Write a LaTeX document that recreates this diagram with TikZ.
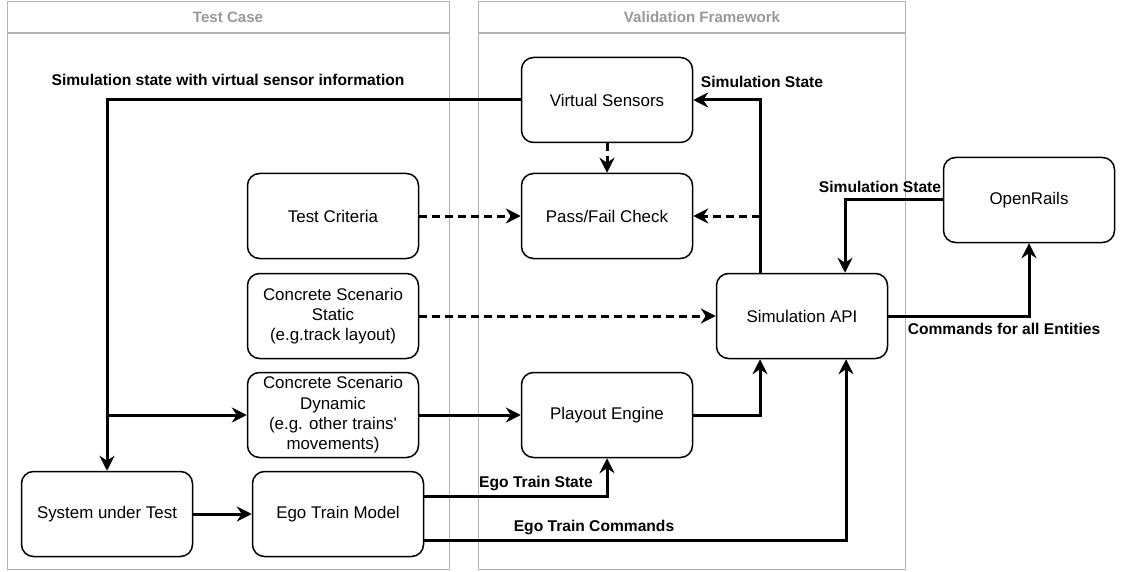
\documentclass[tikz,border=0pt]{standalone}
\usepackage{fontspec}
\setmainfont{Liberation Sans}
\newfontfamily\straightsans[Ligatures=ResetAll]{Liberation Sans}
\usetikzlibrary{arrows.meta}
\begin{document}
\begin{tikzpicture}[x=1pt,y=-1pt,
  box/.style={draw=black, line width=1.5pt, rounded corners=12pt, fill=white,
    minimum width=171pt, minimum height=85pt, align=center, inner sep=1pt,
    font=\fontsize{16.9}{20.3}\selectfont},
  frame/.style={draw=black!30, line width=1.3pt},
  head/.style={text=black!40, font=\fontsize{15.1}{18}\selectfont\bfseries},
  flow/.style={line width=3pt, -{Stealth[length=15pt,width=15pt,inset=5pt]}},
  dflow/.style={flow, dash pattern=on 8pt off 5pt},
  lbl/.style={font=\fontsize{15.6}{18}\selectfont\bfseries, inner sep=0pt},
]
\useasboundingbox (0,0) rectangle (1121,572);

% swimlane containers
\node[frame, minimum width=442pt, minimum height=568pt, anchor=north west, inner sep=0pt] (tc) at (7,1) {};
\draw[frame] ([yshift=-32pt]tc.north west) -- ([yshift=-32pt]tc.north east);
\node[head] (tch) at (228,17) {Test Case};
\node[frame, minimum width=427pt, minimum height=568pt, anchor=north west, inner sep=0pt] (vf) at (478,1) {};
\draw[frame] ([yshift=-32pt]vf.north west) -- ([yshift=-32pt]vf.north east);
\node[head] (vfh) at (702,17) {Validation Framework};

% blocks
\node[box] (vs)  at (607,100) {Virtual Sensors};
\node[box] (pf)  at (607,216) {Pass/Fail Check};
\node[box] (tcr) at (333,216) {Test Criteria};
\node[box] (css) at (333,316) {Concrete Scenario\\Static\\(e.g.track layout)};
\node[box] (csd) at (333,415) {Concrete Scenario\\Dynamic\\(e.g. other trains{\straightsans\char"0027}\\movements)};
\node[box] (pe)  at (607,415) {Playout Engine};
\node[box] (sut) at (107,514) {System under Test};
\node[box] (etm) at (338,514) {Ego Train Model};
\node[box] (api) at (802,316) {Simulation API};
\node[box] (or)  at (1029,200) {OpenRails};

% connectors
\draw[flow] (vs.west) -| (sut.north);
\coordinate (br) at (sut.north |- csd.west);
\draw[flow] (br) -- (csd.west);
\draw[dflow] (vs.south) -- (pf.north);
\draw[dflow] (tcr.east) -- (pf.west);
\coordinate (apiTL) at ([xshift=-42pt]api.north);
\draw[flow] (apiTL) |- (vs.east);
\coordinate (tap) at (apiTL |- pf.east);
\draw[dflow] (tap) -- (pf.east);
\draw[dflow] (css.east) -- (api.west);
\draw[flow] (csd.east) -- (pe.west);
\draw[flow] (pe.east) -| ([xshift=-42pt]api.south);
\draw[flow] ([yshift=18pt]etm.east) -| (pe.south);
\draw[flow] ([yshift=-26pt]etm.east) -| ([xshift=44pt]api.south);
\draw[flow] (sut.east) -- (etm.west);
\draw[flow] (or.west) -| ([xshift=43pt]api.north);
\draw[flow] (api.east) -| (or.south);

% connector labels
\node[lbl] (l1) at (228,80) {Simulation state with virtual sensor information};
\node[lbl] (l2) at (762,82) {Simulation State};
\node[lbl] (l3) at (880,187) {Simulation State};
\node[lbl] (l4) at (1004,329) {Commands for all Entities};
\node[lbl] (l5) at (536,483) {Ego Train State};
\node[lbl] (l6) at (594,527) {Ego Train Commands};
\end{tikzpicture}
\end{document}
